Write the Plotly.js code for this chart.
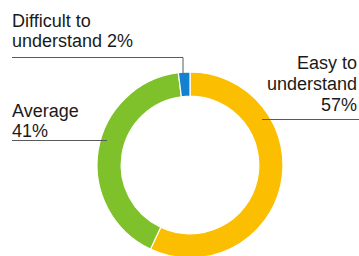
<!DOCTYPE html>
<html>
<head>
<meta charset="utf-8">
<script src="https://cdn.plot.ly/plotly-3.0.1.min.js"></script>
<style>
html,body{margin:0;padding:0;overflow:hidden;background:#fff;}
#chart{width:359px;height:264px;}
</style>
</head>
<body>
<div id="chart"></div>
<script>
var categories = ['Easy to understand', 'Average', 'Difficult to understand'];
var values = [57, 41, 2];
var colors = ['#FCBE00', '#7EC12A', '#1381D0'];
var labelLines = [['Easy to', 'understand'], ['Average'], ['Difficult to', 'understand']];

var W = 359, H = 264;
function px(x){ return x / W; }
function py(y){ return 1 - y / H; }

var cx = 190, cy = 165, R = 93;

var trace = {
  type: 'pie',
  labels: categories,
  values: values,
  sort: false,
  direction: 'clockwise',
  rotation: 0,
  hole: 0.74,
  textinfo: 'none',
  hoverinfo: 'none',
  marker: {colors: colors, line: {color: '#ffffff', width: 1.2}},
  domain: {x: [px(cx - R), px(cx + R)], y: [py(cy + R), py(cy - R)]},
  showlegend: false
};

var font = {family: 'Liberation Sans, Arial, sans-serif', size: 18, color: '#1a1a1a'};
function ann(text, x, yBase, anchor){
  return {xref: 'paper', yref: 'paper', x: px(x), y: py(yBase + 5), text: text,
    showarrow: false, xanchor: anchor, yanchor: 'bottom', font: font, borderpad: 0};
}
var annotations = [];
// Easy to understand
annotations.push(ann(labelLines[0][0], 358, 69, 'right'));
annotations.push(ann(labelLines[0][1], 358, 90, 'right'));
annotations.push(ann(values[0] + '%', 358, 111, 'right'));
// Average
annotations.push(ann(labelLines[1][0], 11, 117, 'left'));
annotations.push(ann(values[1] + '%', 11, 137, 'left'));
// Difficult
annotations.push(ann(labelLines[2][0], 11, 27, 'left'));
annotations.push(ann(labelLines[2][1] + ' ' + values[2] + '%', 11, 47, 'left'));

var lineStyle = {color: '#5a5a5a', width: 1};
var shapes = [
  {type: 'path', xref: 'paper', yref: 'paper', line: lineStyle,
   path: 'M' + px(12) + ',' + py(57.5) + ' L' + px(183) + ',' + py(57.5) + ' L' + px(183) + ',' + py(73)},
  {type: 'line', xref: 'paper', yref: 'paper', line: lineStyle,
   x0: px(262), y0: py(119.5), x1: px(359), y1: py(119.5)},
  {type: 'line', xref: 'paper', yref: 'paper', line: lineStyle,
   x0: px(12), y0: py(140.5), x1: px(107), y1: py(140.5)}
];

var layout = {
  width: W, height: H,
  margin: {l: 0, r: 0, t: 0, b: 0, pad: 0},
  paper_bgcolor: '#ffffff',
  plot_bgcolor: '#ffffff',
  annotations: annotations,
  shapes: shapes,
  showlegend: false
};

Plotly.newPlot('chart', [trace], layout, {displayModeBar: false, staticPlot: true});
</script>
</body>
</html>
